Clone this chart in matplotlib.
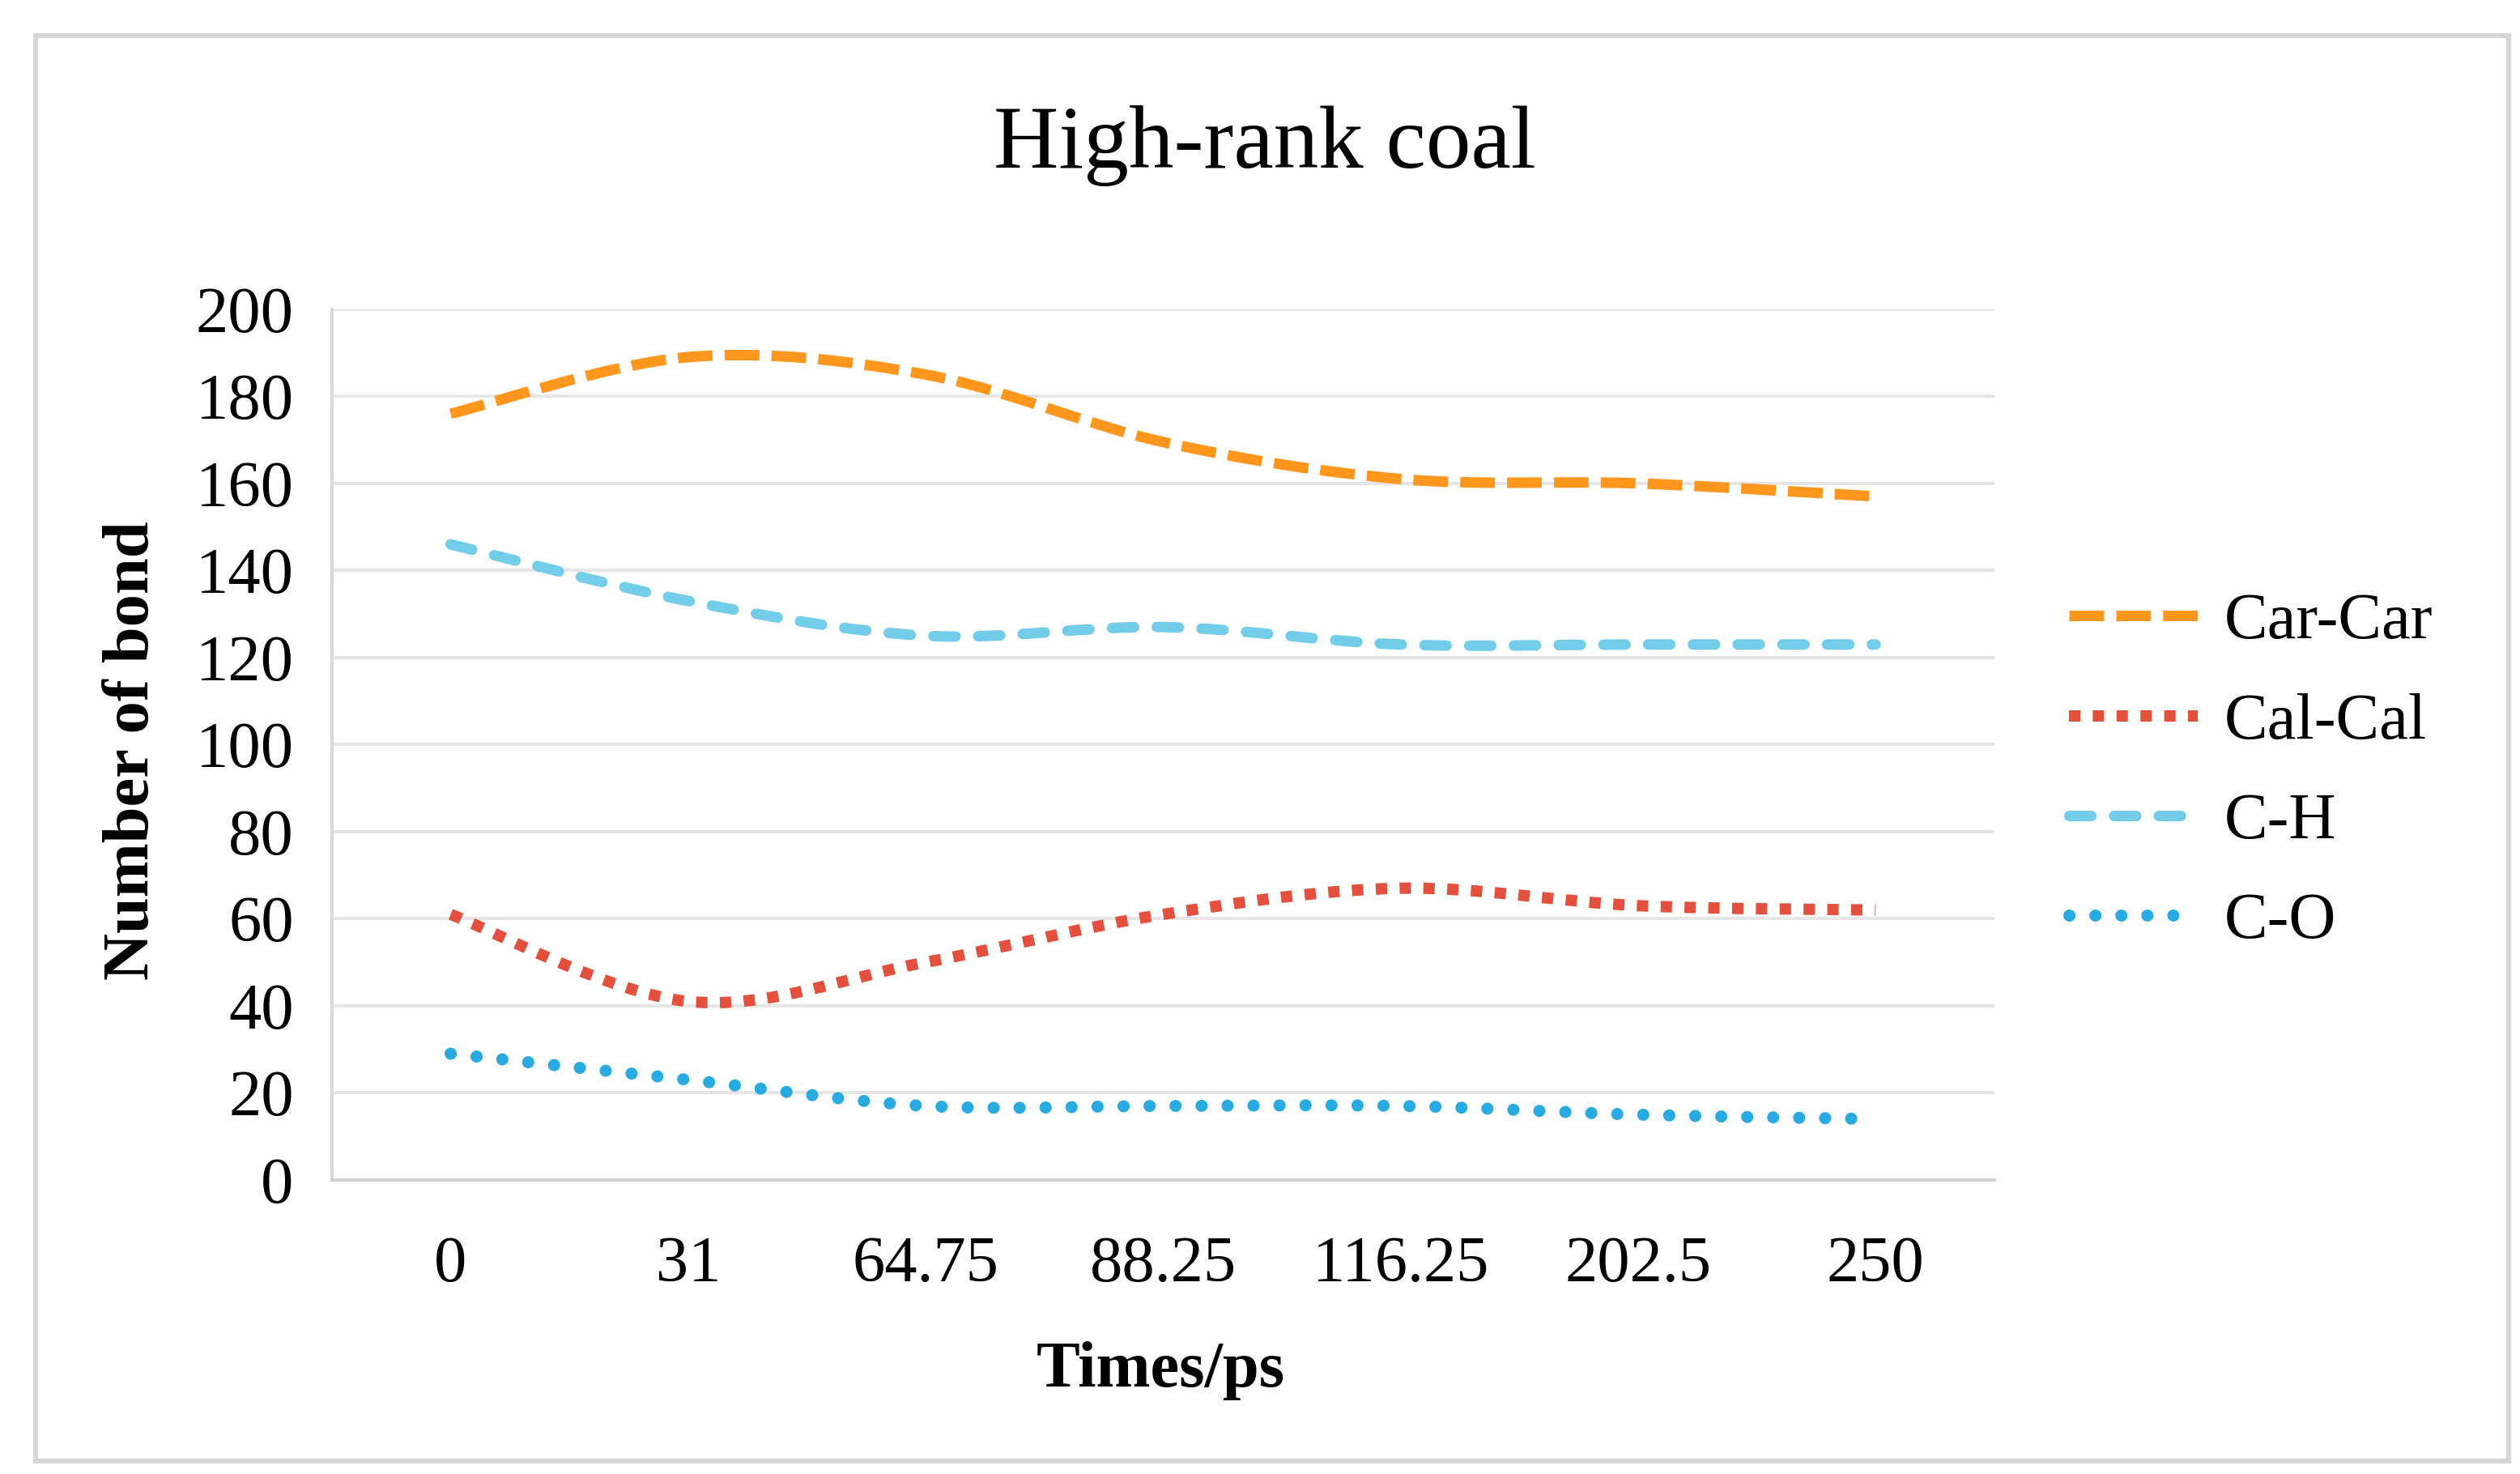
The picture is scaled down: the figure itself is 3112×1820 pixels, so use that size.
import numpy as np
import matplotlib
matplotlib.use('Agg')
import matplotlib.pyplot as plt
from matplotlib.path import Path
from matplotlib.patches import PathPatch, Rectangle
from matplotlib.lines import Line2D

times = ['0', '31', '64.75', '88.25', '116.25', '202.5', '250']
car_car = [176, 189, 185, 169.5, 161, 160, 157]
cal_cal = [61, 41, 50, 61, 67, 63, 62]
c_h = [146, 133, 125, 127, 123, 123, 123]
c_o = [29, 23, 17, 17, 17, 15, 14]
names = ['Car-Car', 'Cal-Cal', 'C-H', 'C-O']

plt.rcParams['font.family'] = ['Liberation Serif', 'DejaVu Serif']

PX = 72 / 200  # points per pixel at dpi 200

# colour, linewidth(px), dash pattern, capstyle
styles = [
    ('#FF961E', 13, (3.3, 1.15), 'butt'),
    ('#E3503E', 14, (1.0, 1.1), 'butt'),
    ('#73CDE8', 13, (2.1, 2.15), 'round'),
    ('#29ABE2', 15, (0.01, 2.13), 'round'),
]


def smooth_path(y):
    # excel-like smoothed line: cubic bezier through the points
    pts = np.column_stack([np.arange(len(y)), np.asarray(y, float)])
    n = len(pts)
    verts = [pts[0]]
    codes = [Path.MOVETO]
    for i in range(n - 1):
        p0 = pts[i - 1] if i > 0 else pts[i]
        p1 = pts[i]
        p2 = pts[i + 1]
        p3 = pts[i + 2] if i + 2 < n else pts[i + 1]
        verts += [p1 + (p2 - p0) / 6, p2 - (p3 - p1) / 6, p2]
        codes += [Path.CURVE4] * 3
    return Path(verts, codes)


fig = plt.figure(figsize=(15.56, 9.1), dpi=200)
fig.patches.append(Rectangle((44 / 3112, 16 / 1820), 3054 / 3112, 1760 / 1820,
                             transform=fig.transFigure, fill=False,
                             edgecolor='#d6d6d6', lw=2.2))

ax = fig.add_axes([0.1317, 0.1995, 0.6597, 0.5907])

series = [car_car, cal_cal, c_h, c_o]
handles = []
for vals, (col, lw, dash, cap) in zip(series, styles):
    patch = PathPatch(smooth_path(vals), fill=False, edgecolor=col,
                      lw=lw * PX, linestyle=(0, dash), capstyle=cap,
                      joinstyle='round', zorder=3)
    ax.add_patch(patch)
    h = Line2D([], [], color=col, lw=lw * PX, linestyle=(0, dash),
               dash_capstyle=cap)
    handles.append(h)

ax.set_xlim(-0.5, 6.5)
ax.set_ylim(0, 200)
ax.set_xticks(range(len(times)), times)
ax.set_yticks(np.arange(0, 201, 20))
ax.tick_params(axis='both', length=0, labelsize=29)
ax.tick_params(axis='y', pad=17)
ax.tick_params(axis='x', pad=25)
ax.grid(axis='y', color='#e6e6e6', lw=1.44)
ax.set_axisbelow(True)
for s in ['top', 'right']:
    ax.spines[s].set_visible(False)
ax.spines['left'].set_color('#d9d9d9')
ax.spines['left'].set_linewidth(1.44)
ax.spines['bottom'].set_color('#d0d0d0')
ax.spines['bottom'].set_linewidth(1.44)

ax.set_xlabel('Times/ps', fontsize=29, fontweight='bold', va='baseline')
ax.xaxis.set_label_coords(0.4985, -0.2373)
ax.set_ylabel('Number of bond', fontsize=29, fontweight='bold', va='center')
ax.yaxis.set_label_coords(-0.12, 0.493)

fig.text(0.502, 0.8863, 'High-rank coal', fontsize=40, ha='center',
         va='baseline')

fig.legend(handles, names, loc='center left', bbox_to_anchor=(0.821, 0.476),
           frameon=False, fontsize=29, handlelength=1.98, handletextpad=0.4,
           labelspacing=0.62, borderpad=0, borderaxespad=0)

fig.savefig('out.png', dpi=200)
